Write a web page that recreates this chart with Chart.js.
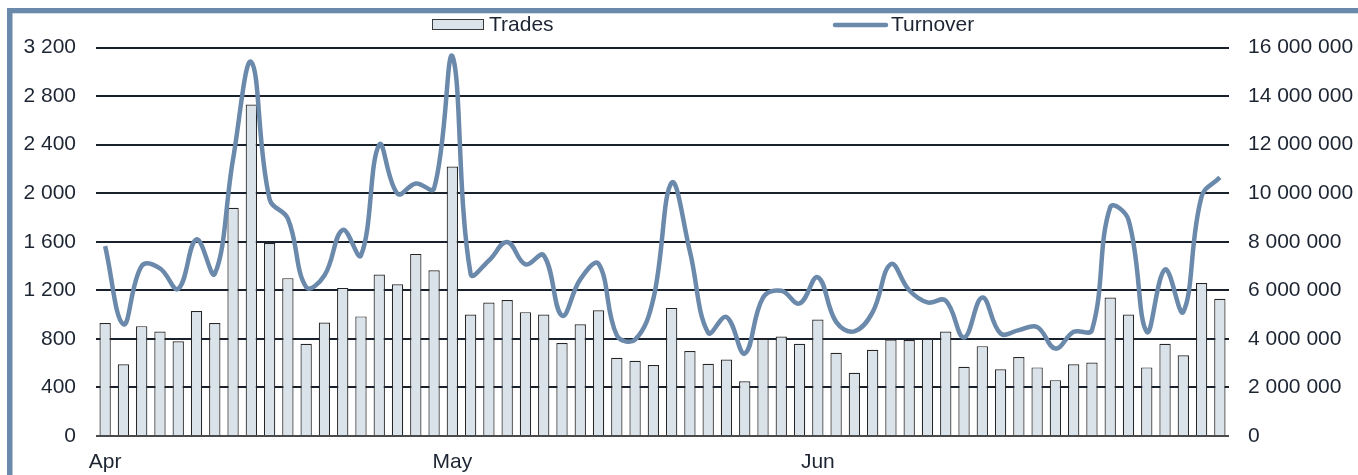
<!DOCTYPE html>
<html>
<head>
<meta charset="utf-8">
<title>Trades and Turnover</title>
<script src="https://cdn.jsdelivr.net/npm/chart.js@4.4.1/dist/chart.umd.min.js"></script>
<style>
    body { margin: 0; background: #fff; }
    #wrap { width: 1358px; height: 475px; position: relative; }
</style>
</head>
<body>
<div id="wrap">
    <canvas id="chart" width="1358" height="475"></canvas>
</div>
<script>
// daily values, Apr - Jun
const trades = [
    930, 590, 905, 860, 780, 1030, 930, 1880, 2730, 1590,
    1300, 760, 935, 1220, 985, 1330, 1250, 1500, 1365, 2220,
    1000, 1100, 1120, 1020, 1000, 765, 920, 1035, 645, 620,
    585, 1055, 700, 595, 630, 450, 800, 820, 760, 960,
    685, 520, 710, 795, 790, 800, 860, 570, 740, 550,
    650, 565, 460, 590, 605, 1140, 1000, 565, 760, 665,
    1260, 1130
];
const turnover = [
    7820000, 4600000, 7000000, 6900000, 6060000, 8100000, 6680000, 11400000, 15400000, 9750000,
    8950000, 6130000, 6610000, 8490000, 7440000, 12000000, 9980000, 10400000, 10200000, 15650000,
    6680000, 7230000, 7990000, 7070000, 7440000, 4960000, 6450000, 7090000, 4150000, 3970000,
    5650000, 10430000, 7600000, 4250000, 4900000, 3400000, 5700000, 5980000, 5460000, 6540000,
    4700000, 4310000, 5100000, 7080000, 6000000, 5500000, 5580000, 4060000, 5700000, 4220000,
    4360000, 4490000, 3600000, 4290000, 4360000, 9420000, 8900000, 4290000, 6860000, 5110000,
    9860000, 10650000
];
const months = ['Apr', 'May', 'Jun'];
const monthStart = [0, 19, 39];
const leftTicks = [0, 400, 800, 1200, 1600, 2000, 2400, 2800, 3200];
const rightTicks = [0, 2000000, 4000000, 6000000, 8000000, 10000000, 12000000, 14000000, 16000000];

const labels = trades.map((_, i) => {
    const m = monthStart.indexOf(i);
    return m >= 0 ? months[m] : '';
});

const textColor = '#1d2533';
const lineColor = '#6b89ab';
const font = { family: '"Liberation Sans", Arial, sans-serif', size: 21 };

// 3 200 / 16 000 000
function spaced(v) {
    return String(Math.round(v)).replace(/\B(?=(\d{3})+(?!\d))/g, ' ');
}

// 枠線と凡例
const frame = {
    id: 'frame',
    afterDraw(chart) {
        const c = chart.ctx;
        const ds = chart.data.datasets;
        c.save();
        c.fillStyle = lineColor;
        c.fillRect(7, 8, 1351, 5.3);
        c.fillRect(7, 8, 5.5, 467);

        // Trades
        const bar = ds[1];
        c.fillStyle = bar.backgroundColor;
        c.fillRect(432, 19, 52, 11);
        c.strokeStyle = '#3a3a3a';
        c.lineWidth = 1;
        c.strokeRect(432.5, 19.5, 51, 10);
        c.font = font.size + 'px ' + font.family;
        c.fillStyle = textColor;
        c.textBaseline = 'middle';
        c.fillText(bar.label, 489, 25);

        // Turnover
        const line = ds[0];
        c.strokeStyle = line.borderColor;
        c.lineWidth = line.borderWidth;
        c.lineCap = 'round';
        c.beginPath();
        c.moveTo(835, 25);
        c.lineTo(886, 25);
        c.stroke();
        c.fillText(line.label, 891, 25);
        c.restore();
    }
};

new Chart(document.getElementById('chart'), {
    data: {
        labels: labels,
        datasets: [
            {
                type: 'line',
                label: 'Turnover',
                data: turnover,
                yAxisID: 'y2',
                borderColor: lineColor,
                borderWidth: 4.5,
                tension: 0.4,
                pointRadius: 0,
                fill: false,
                order: 0
            },
            {
                type: 'bar',
                label: 'Trades',
                data: trades,
                yAxisID: 'y',
                backgroundColor: '#dae2ea',
                borderColor: '#262626',
                borderWidth: 1.2,
                barPercentage: 0.62,
                categoryPercentage: 1,
                order: 1
            }
        ]
    },
    options: {
        responsive: false,
        animation: false,
        devicePixelRatio: 1,
        layout: {
            padding: { top: 47.5, bottom: 0, left: 0, right: 0 }
        },
        plugins: {
            legend: { display: false },
            tooltip: { enabled: false }
        },
        scales: {
            x: {
                grid: { display: false, drawTicks: false },
                border: { display: false },
                ticks: {
                    autoSkip: false,
                    maxRotation: 0,
                    padding: 14,
                    color: textColor,
                    font: font,
                    callback: (v, i) => labels[i]
                },
                afterFit: (s) => { s.height = 39; }
            },
            y: {
                position: 'left',
                min: 0,
                max: 3200,
                afterBuildTicks: (s) => { s.ticks = leftTicks.map(v => ({ value: v })); },
                grid: {
                    drawTicks: false,
                    lineWidth: 2,
                    color: (ctx) => ctx.tick && ctx.tick.value === 0 ? '#4a4a4a' : '#19212d'
                },
                border: { display: false },
                ticks: {
                    padding: 20,
                    color: textColor,
                    font: font,
                    callback: (v) => spaced(v)
                },
                afterFit: (s) => { s.width = 96; }
            },
            y2: {
                position: 'right',
                min: 0,
                max: 16000000,
                afterBuildTicks: (s) => { s.ticks = rightTicks.map(v => ({ value: v })); },
                grid: { drawOnChartArea: false, drawTicks: false },
                border: { display: false },
                ticks: {
                    padding: 19,
                    color: textColor,
                    font: font,
                    callback: (v) => spaced(v)
                },
                afterFit: (s) => { s.width = 129; }
            }
        }
    },
    plugins: [frame]
});
</script>
</body>
</html>
